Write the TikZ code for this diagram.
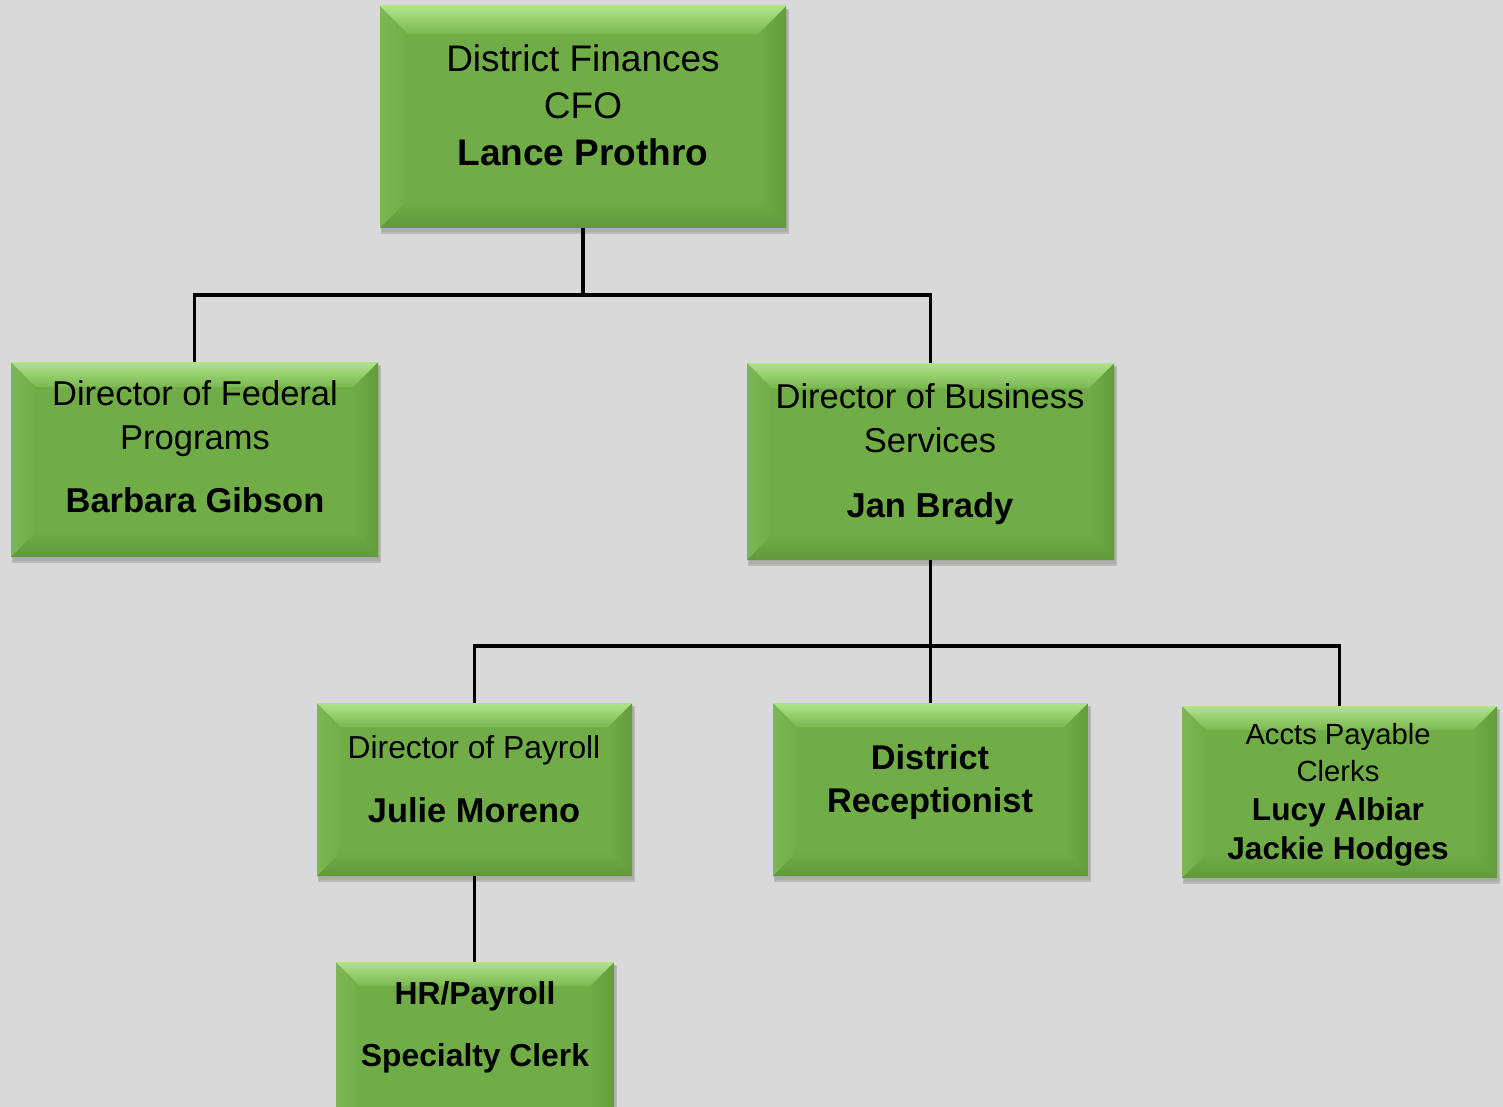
\documentclass[tikz,border=0pt]{standalone}
\usepackage{fontspec}
\setmainfont{Liberation Sans}
\usetikzlibrary{calc,fit}
\definecolor{bg}{RGB}{217,217,217}
\definecolor{face}{RGB}{112,173,71}
\definecolor{bevtopA}{RGB}{176,228,138}
\definecolor{bevtopB}{RGB}{122,184,80}
\definecolor{bevleftA}{RGB}{124,184,82}
\definecolor{bevrightA}{RGB}{98,156,60}
\definecolor{bevbotA}{RGB}{96,152,58}
\definecolor{shadowc}{RGB}{150,150,150}
\tikzset{
  conn/.style={draw=black, line width=3.6pt},
  txt/.style={align=center, inner sep=0pt, text=black},
  anchorbox/.style={inner sep=0pt, draw=none},
}
% name, x1, y1, x2, y2, bevel
\newcommand\bevelbox[6]{%
  \fill[shadowc, opacity=0.45] (#2+1,#3+3) rectangle (#4+3,#5+6);
  \fill[shadowc, opacity=0.35] (#2+2,#3+4) rectangle (#4+2,#5+4);
  \fill[face] (#2,#3) rectangle (#4,#5);
  \shade[left color=bevleftA, right color=face] (#2,#3) -- (#2+#6,#3+#6) -- (#2+#6,#5-#6) -- (#2,#5) -- cycle;
  \shade[left color=face, right color=bevrightA] (#4,#3) -- (#4-#6,#3+#6) -- (#4-#6,#5-#6) -- (#4,#5) -- cycle;
  \shade[top color=face, bottom color=bevbotA] (#2,#5) -- (#2+#6,#5-#6) -- (#4-#6,#5-#6) -- (#4,#5) -- cycle;
  \shade[top color=bevtopA, bottom color=bevtopB] (#2,#3) -- (#4,#3) -- (#4-#6,#3+#6) -- (#2+#6,#3+#6) -- cycle;
  \draw[bevtopA, line width=1pt] (#2,#3) -- (#4,#3);
  \coordinate (#1-nw) at (#2,#3);
  \coordinate (#1-se) at (#4,#5);
  \node[anchorbox, fit=(#1-nw)(#1-se)] (#1) {};
}
\begin{document}
\begin{tikzpicture}[x=1pt, y=-1pt]
\useasboundingbox (0,0) rectangle (1503,1107);
\clip (0,0) rectangle (1503,1107);
\fill[bg] (0,0) rectangle (1503,1107);

% boxes
\bevelbox{top}{380}{6}{786}{228}{28}
\bevelbox{fed}{11}{362}{378}{557}{25}
\bevelbox{bus}{747}{363}{1114}{560}{25}
\bevelbox{pay}{317}{703}{632}{876}{24}
\bevelbox{rec}{773}{703}{1088}{876}{24}
\bevelbox{acc}{1182}{706}{1497}{878}{24}
\bevelbox{hr}{336}{962}{614}{1135}{24}

% connectors
\coordinate (j1) at ($(top.south |- 0,295)$);
\coordinate (j2) at ($(bus.south |- 0,646)$);
\draw[conn] (top.south) -- (j1);
\draw[conn] (fed.north) |- (j1) -| (bus.north);
\draw[conn] (bus.south) -- (rec.north);
\draw[conn] (pay.north) |- (j2) -| (acc.north);
\draw[conn] (pay.south) -- (pay.south |- hr.north);

% texts
\node[txt, font=\fontsize{37}{47}\selectfont] (topT) at (583,105)
  {District Finances\\CFO\\\textbf{Lance Prothro}};
\node[txt, font=\fontsize{34.5}{44}\selectfont] (fedT) at (195,447)
  {Director of Federal\\Programs\\[19pt]\textbf{Barbara Gibson}};
\node[txt, font=\fontsize{34.5}{44}\selectfont] (busT) at (930,454)
  {Director of Business\\Services\\[21pt]\textbf{Jan Brady}};
\node[txt] (payT) at (474,779)
  {\fontsize{31.8}{40}\selectfont Director of Payroll\\[32pt]\fontsize{34.4}{40}\selectfont\textbf{Julie Moreno}};
\node[txt, font=\fontsize{34.3}{43}\selectfont\bfseries] (recT) at (930,782)
  {District\\Receptionist};
\node[txt, font=\fontsize{29.2}{37}\selectfont] (accT) at (1338,753)
  {Accts Payable\\Clerks};
\node[txt, font=\fontsize{31.6}{39}\selectfont\bfseries] (accN) at (1338,832)
  {Lucy Albiar\\Jackie Hodges};
\node[txt, font=\fontsize{31.8}{62}\selectfont\bfseries] (hrT) at (475,1027)
  {HR/Payroll\\Specialty Clerk};
\end{tikzpicture}
\end{document}
